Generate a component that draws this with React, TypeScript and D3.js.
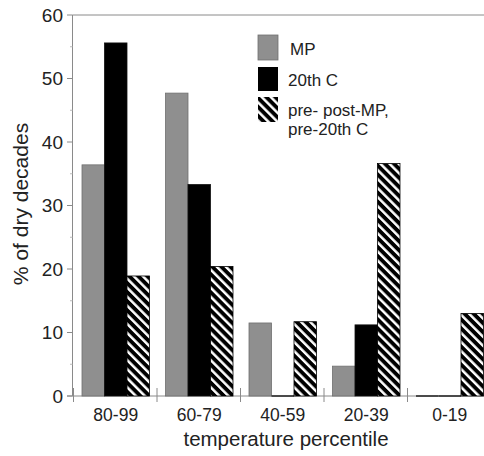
import React from "react";
import * as d3 from "d3";

const categories = ["80-99", "60-79", "40-59", "20-39", "0-19"];
const seriesNames = ["MP", "20th C", "pre- post-MP, pre-20th C"];
const mpValues = [36.4, 47.7, 11.5, 4.7, 0];
const c20Values = [55.6, 33.3, 0, 11.2, 0];
const preValues = [18.9, 20.4, 11.7, 36.6, 13.0];
const yTicks = [0, 10, 20, 30, 40, 50, 60];
const yMinorTicks = [5, 15, 25, 35, 45, 55];

const W = 484;
const H = 456;
const font = "Arial, 'Liberation Sans', Helvetica, sans-serif";

export default function App() {
  const x = d3.scaleBand<string>().domain(categories).range([73, 490.5]).paddingInner(0).paddingOuter(0);
  const sub = d3.scaleBand<string>().domain(seriesNames).range([9, 76.5]).padding(0);
  const y = d3.scaleLinear().domain([0, 60]).range([396, 15]);
  const series = [mpValues, c20Values, preValues];
  const fills = ["#8f8f8f", "#000", "url(#hatch)"];
  const strokes = ["#6f6f6f", "#111", "#000"];
  const axisColor = "#8a8a8a";
  const textColor = "#222";

  const boundaries = categories.map((c) => x(c) as number);

  return (
    <svg width={W} height={H} style={{ position: "absolute", left: 0, top: 0, background: "#fff" }} fontFamily={font}>
      <defs>
        <pattern id="hatch" patternUnits="userSpaceOnUse" width={6.4} height={6.4} patternTransform="rotate(-45)">
          <rect x={0} y={0} width={6.4} height={6.4} fill="#000" />
          <rect x={0} y={0} width={2.5} height={6.4} fill="#fff" />
        </pattern>
      </defs>

      {/* top line */}
      <line x1={72.5} x2={W} y1={y(60)} y2={y(60)} stroke={axisColor} strokeWidth={1} />
      {/* y axis */}
      <line x1={72.5} x2={72.5} y1={y(60)} y2={y(0)} stroke={axisColor} strokeWidth={1} />
      {yTicks.map((t) => (
        <g key={t}>
          <line x1={67} x2={72.5} y1={y(t)} y2={y(t)} stroke={axisColor} strokeWidth={1} />
          <text x={63} y={y(t)} dy="0.36em" textAnchor="end" fontSize={19} fill={textColor}>
            {t}
          </text>
        </g>
      ))}
      {yMinorTicks.map((t) => (
        <line key={t} x1={70} x2={72.5} y1={y(t)} y2={y(t)} stroke="#bbb" strokeWidth={1} />
      ))}
      {/* x axis */}
      <line x1={67} x2={W} y1={y(0)} y2={y(0)} stroke={axisColor} strokeWidth={1} />
      {boundaries.map((b, i) => (
        <line key={i} x1={b + 0.5} x2={b + 0.5} y1={y(0) - 8} y2={y(0) + 6} stroke={axisColor} strokeWidth={1} />
      ))}

      {/* bars */}
      {categories.map((cat, i) => (
        <g key={cat} transform={`translate(${x(cat)},0)`}>
          {series.map((vals, s) => {
            const v = vals[i];
            const top = y(v);
            const bx = sub(seriesNames[s]) as number;
            if (v === 0) {
              return (
                <line key={s} x1={bx} x2={bx + sub.bandwidth()} y1={y(0)} y2={y(0)} stroke="#222" strokeWidth={1.5} />
              );
            }
            return (
              <rect
                key={s}
                x={bx}
                y={top}
                width={sub.bandwidth()}
                height={y(0) - top}
                fill={fills[s]}
                stroke={strokes[s]}
                strokeWidth={0.8}
              />
            );
          })}
        </g>
      ))}

      {categories.map((cat) => (
        <text key={cat} x={(x(cat) as number) + x.bandwidth() / 2 + 1} y={421} textAnchor="middle" fontSize={17.5} fill={textColor}>
          {cat}
        </text>
      ))}
      <text x={286} y={446} textAnchor="middle" fontSize={20.5} fill={textColor}>
        temperature percentile
      </text>
      <text transform={`translate(28,204) rotate(-90)`} textAnchor="middle" fontSize={21} fill={textColor}>
        % of dry decades
      </text>

      {/* legend */}
      <g>
        <rect x={258} y={35} width={20} height={25} fill={fills[0]} stroke={strokes[0]} strokeWidth={0.8} />
        <text x={290} y={49} dy="0.36em" fontSize={17} fill={textColor}>MP</text>
        <rect x={258} y={67} width={20} height={24} fill={fills[1]} />
        <text x={288} y={80} dy="0.36em" fontSize={17} fill={textColor}>20th C</text>
        <rect x={258} y={97} width={20} height={25} fill={fills[2]} />
        <text x={288} y={110} dy="0.36em" fontSize={17} fill={textColor}>pre- post-MP,</text>
        <text x={288} y={129} dy="0.36em" fontSize={17} fill={textColor}>pre-20th C</text>
      </g>
    </svg>
  );
}
